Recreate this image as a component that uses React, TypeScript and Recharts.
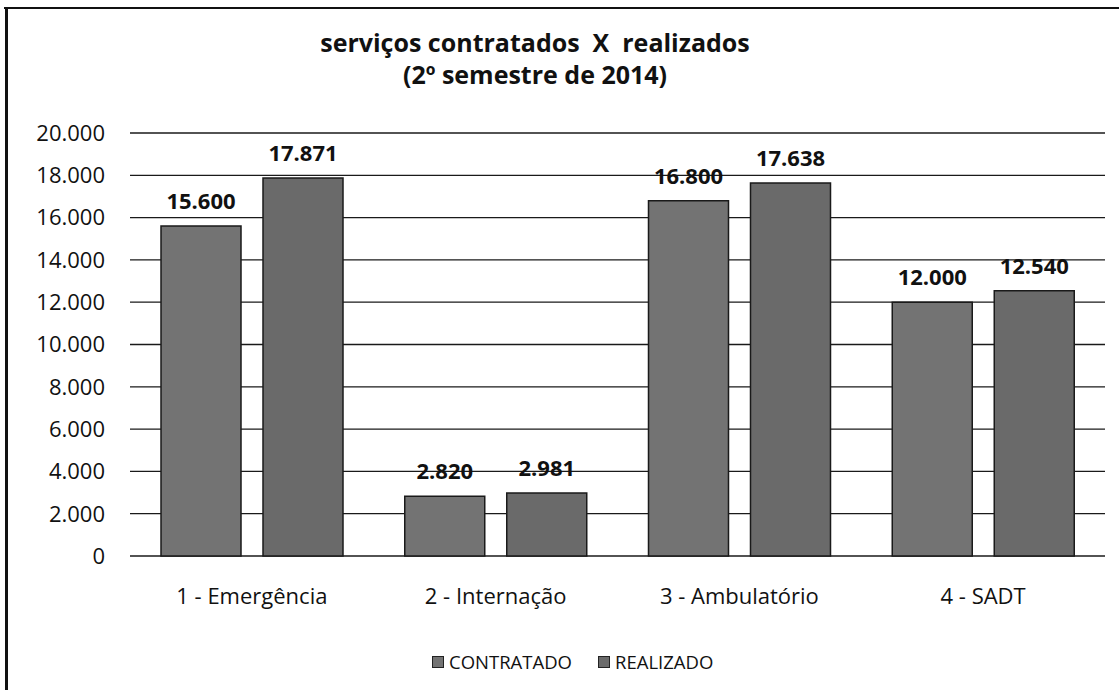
import { Bar, BarChart, CartesianGrid, LabelList, XAxis, YAxis } from "recharts"

const categories = ["1 - Emergência", "2 - Internação", "3 - Ambulatório", "4 - SADT"]
const contratado = [15600, 2820, 16800, 12000]
const realizado = [17871, 2981, 17638, 12540]
const yTicks = [0, 2000, 4000, 6000, 8000, 10000, 12000, 14000, 16000, 18000, 20000]

const data = categories.map((name, i) => ({
  name,
  contratado: contratado[i],
  realizado: realizado[i],
}))

const fmt = (v: any) => String(v).replace(/\B(?=(\d{3})+(?!\d))/g, ".")

const font = "'Open Sans', sans-serif"

const labelStyle = { fontSize: 22, fontWeight: 700, fill: "#111", fontFamily: font }

function LegendItem({ color, text }: { color: string; text: string }) {
  return (
    <span style={{ display: "inline-flex", alignItems: "center", marginRight: 26 }}>
      <span style={{ width: 10, height: 10, background: color, border: "1px solid #222", marginRight: 5 }} />
      <span>{text}</span>
    </span>
  )
}

export default function App() {
  return (
    <div style={{ position: "fixed", left: 0, top: 0, width: 1119, height: 690, overflow: "hidden", background: "#fff", fontFamily: font, color: "#111" }}>
      <div style={{ position: "absolute", left: 0, top: 26, width: 1070, textAlign: "center", fontSize: 25, fontWeight: 700, lineHeight: "32px" }}>
        <div>serviços contratados&nbsp; X&nbsp; realizados</div>
        <div>(2º semestre de 2014)</div>
      </div>
      <div style={{ position: "absolute", left: 0, top: 0 }}>
        <BarChart width={1119} height={690} data={data} margin={{ top: 133, right: 14, left: 0, bottom: 104 }} barSize={80} barGap={22}>
          <CartesianGrid vertical={false} stroke="#1a1a1a" strokeWidth={1.3} />
          <XAxis dataKey="name" axisLine={false} tickLine={false} tickMargin={26} height={30} tick={{ fontSize: 22, fill: "#111", fontFamily: font }} />
          <YAxis domain={[0, 20000]} ticks={yTicks} width={130} axisLine={false} tickLine={false} tickMargin={19} tickFormatter={fmt} tick={{ fontSize: 22, fill: "#111", fontFamily: font }} />
          <Bar dataKey="contratado" fill="#737373" stroke="#1a1a1a" strokeWidth={1.5} isAnimationActive={false}>
            <LabelList dataKey="contratado" position="top" offset={17} formatter={fmt} style={labelStyle} />
          </Bar>
          <Bar dataKey="realizado" fill="#6a6a6a" stroke="#1a1a1a" strokeWidth={1.5} isAnimationActive={false}>
            <LabelList dataKey="realizado" position="top" offset={17} formatter={fmt} style={labelStyle} />
          </Bar>
        </BarChart>
      </div>
      <div style={{ position: "absolute", left: 432, top: 649, fontSize: 18.5, display: "flex", alignItems: "center" }}>
        <LegendItem color="#737373" text="CONTRATADO" />
        <LegendItem color="#6a6a6a" text="REALIZADO" />
      </div>
      {/* frame: top and left edges of the scanned box */}
      <div style={{ position: "absolute", left: 4, top: 7, width: 1115, height: 2, background: "#111" }} />
      <div style={{ position: "absolute", left: 5, top: 7, width: 3, height: 683, background: "#111" }} />
    </div>
  )
}
